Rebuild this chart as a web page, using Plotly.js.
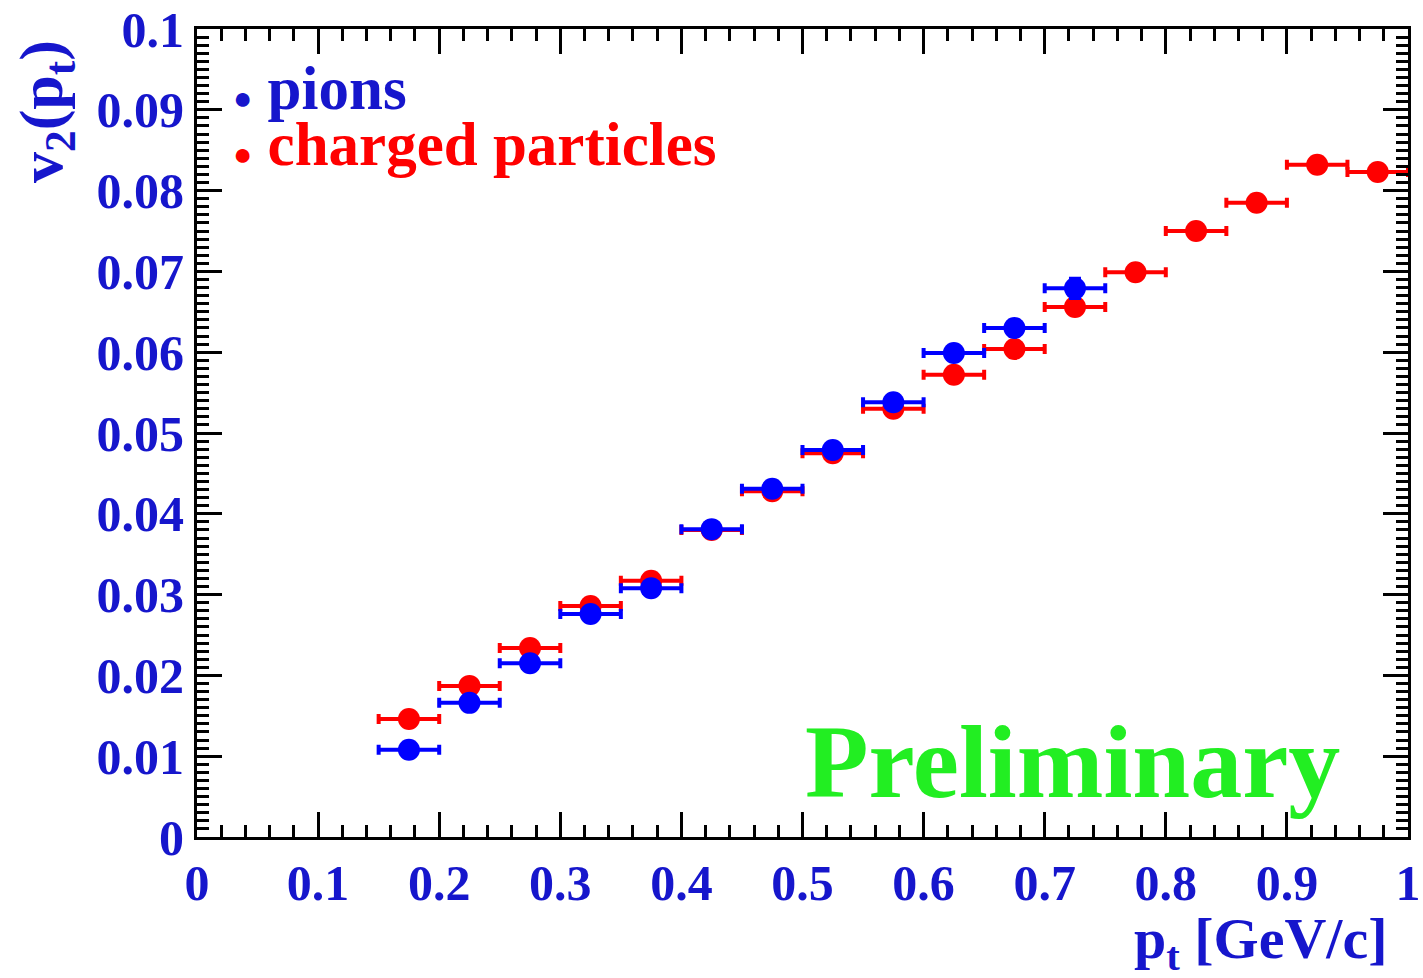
<!DOCTYPE html>
<html>
<head>
<meta charset="utf-8">
<script src="https://cdn.plot.ly/plotly-3.0.1.min.js"></script>
<style>html,body{margin:0;padding:0;background:#fff;}#chart{width:1423px;height:978px;}</style>
</head>
<body>
<div id="chart"></div>
<script>
const pionPt = [0.175,0.225,0.275,0.325,0.375,0.425,0.475,0.525,0.575,0.625,0.675,0.725];
const pionV2 = [0.0108,0.0166,0.0215,0.0276,0.0308,0.0381,0.0431,0.0479,0.0538,0.0599,0.0630,0.0679];
const pionErr = [0.0005,0.0005,0.0005,0.0005,0.0005,0.0005,0.0005,0.0005,0.0006,0.0007,0.0009,0.0012];
const chPt = [0.175,0.225,0.275,0.325,0.375,0.425,0.475,0.525,0.575,0.625,0.675,0.725,0.775,0.825,0.875,0.925,0.975];
const chV2 = [0.0146,0.0187,0.0234,0.0286,0.0317,0.0380,0.0428,0.0475,0.0530,0.0572,0.0604,0.0656,0.0699,0.0750,0.0785,0.0832,0.0823];
const chErr = [0.0004,0.0004,0.0004,0.0004,0.0004,0.0004,0.0004,0.0004,0.0004,0.0004,0.0004,0.0005,0.0005,0.0005,0.0005,0.0006,0.0006];
const binHalf = 0.025;

const BLUE = '#0000ff', RED = '#ff0000', TXT = '#1616cc', GREEN = '#22ee22';
const FONT = 'Liberation Serif, Times New Roman, serif';

function trace(x, y, e, color, name) {
  return {
    x: x, y: y, name: name, type: 'scatter', mode: 'markers',
    marker: {color: color, size: 22},
    error_x: {type: 'constant', value: binHalf, color: color, thickness: 4, width: 5},
    error_y: {type: 'data', array: e, color: color, thickness: 4, width: 6},
    showlegend: false, hoverinfo: 'skip'
  };
}

const data = [
  trace(chPt, chV2, chErr, RED, 'charged particles'),
  trace(pionPt, pionV2, pionErr, BLUE, 'pions')
];

const axisCommon = {
  showline: true, linecolor: '#000', linewidth: 3, mirror: 'allticks',
  ticks: 'inside', ticklen: 25, tickwidth: 3, tickcolor: '#000',
  showgrid: false, zeroline: false,
  tickfont: {family: FONT, size: 50, color: TXT, weight: 'bold'}
};

const layout = {
  width: 1423, height: 978,
  margin: {l: 197, r: 15, t: 29, b: 141},
  paper_bgcolor: '#fff', plot_bgcolor: '#fff',
  xaxis: Object.assign({}, axisCommon, {
    range: [0, 1], dtick: 0.1, tick0: 0,
    minor: {dtick: 0.02, ticklen: 12, tickwidth: 3, tickcolor: '#000', ticks: 'inside', showgrid: false}
  }),
  yaxis: Object.assign({}, axisCommon, {
    range: [0, 0.1], dtick: 0.01, tick0: 0,
    minor: {dtick: 0.001, ticklen: 12, tickwidth: 3, tickcolor: '#000', ticks: 'inside', showgrid: false}
  }),
  annotations: [
    {xref: 'paper', yref: 'paper', x: -0.125, y: 0.898, xanchor: 'center', yanchor: 'middle',
     textangle: -90, showarrow: false, text: '<b>v<sub>2</sub>(p<sub>t</sub>)</b>',
     font: {family: FONT, size: 62, color: TXT}},
    {xref: 'paper', yref: 'paper', x: 0.985, y: -0.131, xanchor: 'right', yanchor: 'middle',
     showarrow: false, text: '<b>p<sub>t</sub> [GeV/c]</b>',
     font: {family: FONT, size: 58, color: TXT}},
    {xref: 'paper', yref: 'paper', x: 0.7226, y: 0.093, xanchor: 'center', yanchor: 'middle',
     showarrow: false, text: '<b>Preliminary</b>',
     font: {family: FONT, size: 104, color: GREEN}},
    {xref: 'paper', yref: 'paper', x: 0.028, y: 0.926, xanchor: 'left', yanchor: 'middle',
     showarrow: false, text: '<b><span style="font-size:32px">●</span> pions</b>',
     font: {family: FONT, size: 61, color: TXT}},
    {xref: 'paper', yref: 'paper', x: 0.028, y: 0.857, xanchor: 'left', yanchor: 'middle',
     showarrow: false, text: '<b><span style="font-size:32px">●</span> charged particles</b>',
     font: {family: FONT, size: 61, color: RED}}
  ]
};

Plotly.newPlot('chart', data, layout, {displayModeBar: false, staticPlot: true});
</script>
</body>
</html>
